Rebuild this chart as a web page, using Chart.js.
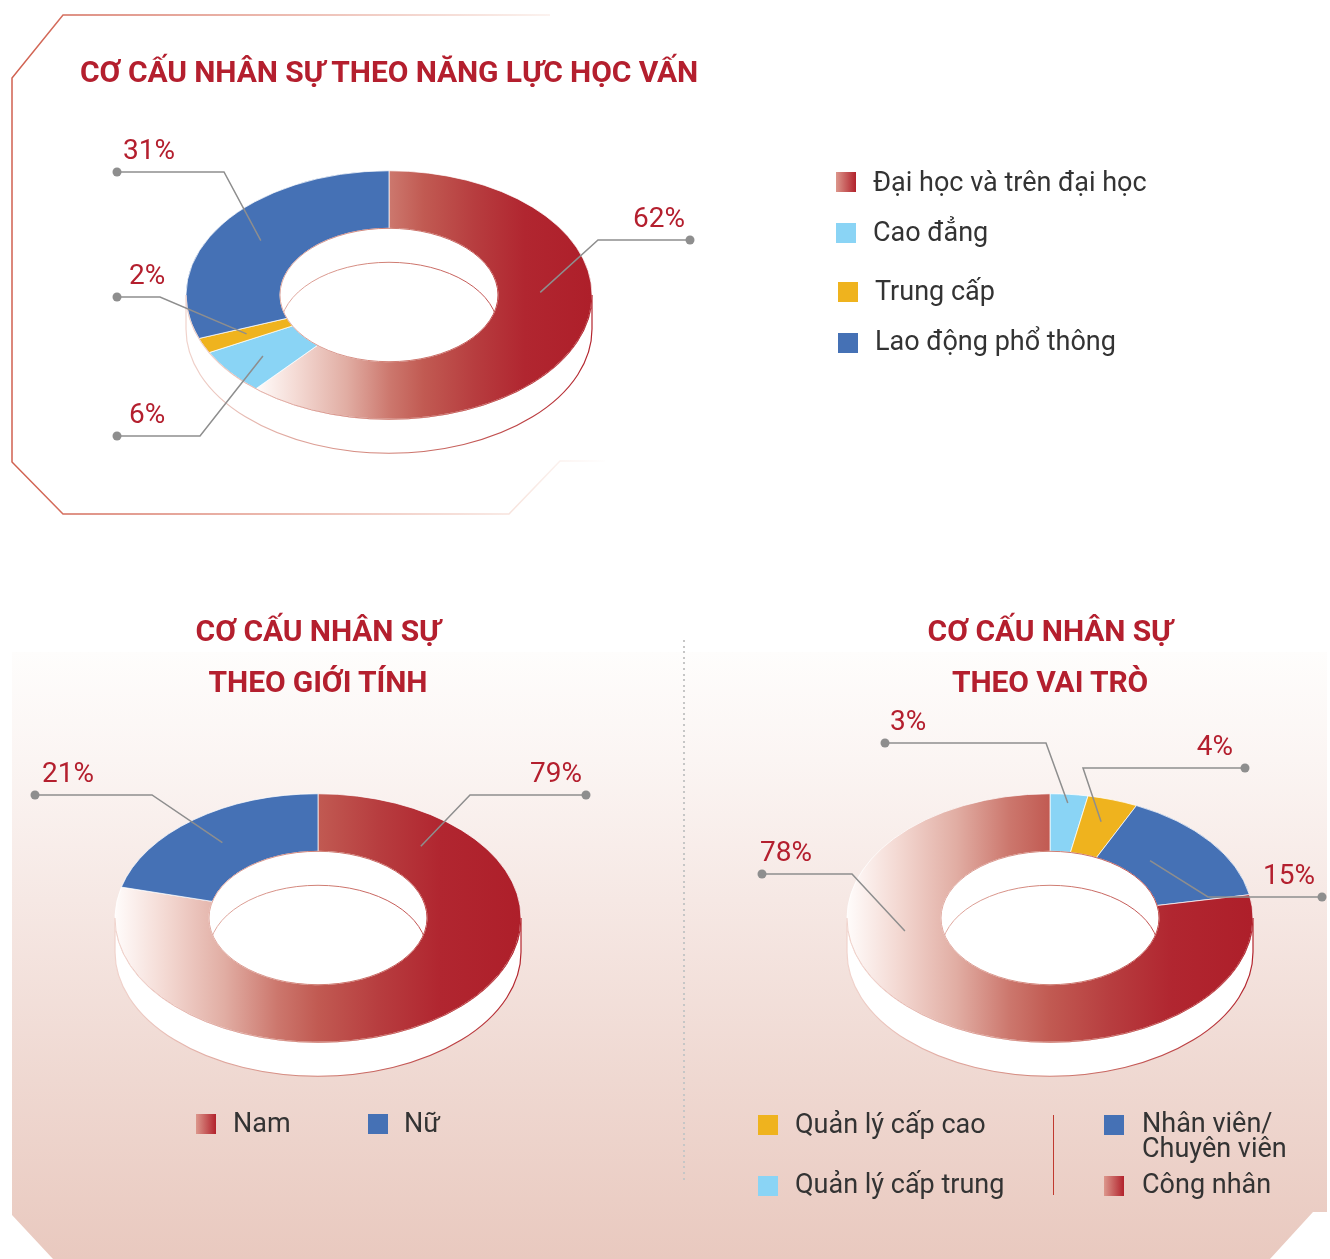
<!DOCTYPE html>
<html lang="vi">
<head>
<meta charset="utf-8">
<title>Cơ cấu nhân sự</title>
<script src="https://cdn.jsdelivr.net/npm/chart.js@4.4.1/dist/chart.umd.min.js"></script>
<style>
  html, body { margin: 0; padding: 0; background: #fff; }
  #page { position: relative; width: 1330px; height: 1259px; overflow: hidden; font-family: Roboto, "Noto Sans", sans-serif; }
  #panel {
    position: absolute; left: 0; top: 0; width: 1330px; height: 1259px;
    background: linear-gradient(to bottom, #fff 0, #fff 651px, #fefdfc 652px, #fbf5f3 760px, #f6e8e4 900px, #efd8d1 1080px, #e9c9bf 1259px);
    clip-path: polygon(12px 652px, 1327px 652px, 1327px 1212px, 1313px 1212px, 1270px 1259px, 53px 1259px, 12px 1215px);
  }
  #frame { position: absolute; left: 0; top: 0; }
  #divider {
    position: absolute; left: 683px; top: 640px; width: 2px; height: 540px;
    background: repeating-linear-gradient(to bottom, #c6c6c6 0, #c6c6c6 2px, transparent 2px, transparent 5.6px);
  }
  canvas.ring { position: absolute; left: 0; top: 0; }
  .title { position: absolute; color: #b41f2e; font-weight: 700; font-size: 30px; letter-spacing: -0.1px; white-space: nowrap; line-height: 1; }
  .title.center { transform: translateX(-50%); }
  .key { position: absolute; }
  .key .sw { position: absolute; width: 20px; height: 20px; }
  .key .tx { position: absolute; font-size: 27px; color: #333; line-height: 25px; white-space: nowrap; }
  #sep { position: absolute; left: 1053px; top: 1115px; width: 1px; height: 80px; background: #c0392f; }
</style>
</head>
<body>
<div id="page">
  <div id="panel"></div>
  <svg id="frame" width="1330" height="560">
    <defs>
      <linearGradient id="frameGrad" gradientUnits="userSpaceOnUse" x1="12" y1="0" x2="610" y2="0">
        <stop offset="0" stop-color="#d0604f"/>
        <stop offset="0.45" stop-color="#e6a496"/>
        <stop offset="0.85" stop-color="#f8e6e0"/>
        <stop offset="1" stop-color="#ffffff"/>
      </linearGradient>
    </defs>
    <polyline points="550,15 63,15 12,78 12,462 63,514 509,514 560,461 605,461"
              fill="none" stroke="url(#frameGrad)" stroke-width="1.5"/>
  </svg>
  <div id="divider"></div>

  <canvas class="ring" id="eduChart" width="1330" height="1259"></canvas>
  <canvas class="ring" id="genderChart" width="1330" height="1259"></canvas>
  <canvas class="ring" id="roleChart" width="1330" height="1259"></canvas>

  <div class="title" style="left:80px; top:57px;">CƠ CẤU NHÂN SỰ THEO NĂNG LỰC HỌC VẤN</div>
  <div class="title center" style="left:318px; top:616px;">CƠ CẤU NHÂN SỰ</div>
  <div class="title center" style="left:318px; top:667px;">THEO GIỚI TÍNH</div>
  <div class="title center" style="left:1050px; top:616px;">CƠ CẤU NHÂN SỰ</div>
  <div class="title center" style="left:1050px; top:667px;">THEO VAI TRÒ</div>
  <div id="sep"></div>
  <div id="legends"></div>
</div>

<script>
// ---- data ----
const eduLabels = ['Đại học và trên đại học', 'Cao đẳng', 'Trung cấp', 'Lao động phổ thông'];
const eduValues = [62, 6, 2, 31];

const genderLabels = ['Nam', 'Nữ'];
const genderValues = [79, 21];

const roleLabels = ['Quản lý cấp trung', 'Quản lý cấp cao', ['Nhân viên/', 'Chuyên viên'], 'Công nhân'];
const roleValues = [3, 4, 15, 78];

// ---- colours ----
const BLUE = '#4571b5';
const SKY = '#8ad4f5';
const GOLD = '#efb31e';
const RED = 'red-gradient';
const SWATCH_RED = 'linear-gradient(90deg, #dc978c, #b2222c)';

const eduColors = [RED, SKY, GOLD, BLUE];
const genderColors = [RED, BLUE];
const roleColors = [SKY, GOLD, BLUE, RED];

// horizontal extent of one slice, relative to the ring centre
function sliceSpan(values, index, R, r) {
  const total = values.reduce((a, b) => a + b, 0);
  const a0 = values.slice(0, index).reduce((a, b) => a + b, 0) / total * 2 * Math.PI;
  const a1 = a0 + values[index] / total * 2 * Math.PI;
  let lo = Infinity, hi = -Infinity;
  for (let i = 0; i <= 240; i++) {
    const s = Math.sin(a0 + (a1 - a0) * i / 240);
    for (const rad of [R, r]) {
      lo = Math.min(lo, s * rad);
      hi = Math.max(hi, s * rad);
    }
  }
  return [lo, hi];
}

function redFill(c, values) {
  const chart = c.chart;
  const ca = chart.chartArea;
  if (!ca) return '#b01f2a';
  const geo = chart.options.plugins.tilt;
  const ox = (ca.left + ca.right) / 2;
  const [lo, hi] = sliceSpan(values, c.dataIndex, geo.R, geo.r);
  const g = chart.ctx.createLinearGradient(ox + lo, 0, ox + hi, 0);
  g.addColorStop(0, '#fffcfb');
  g.addColorStop(0.12, '#f4dad4');
  g.addColorStop(0.27, '#e1ada3');
  g.addColorStop(0.4, '#cc776d');
  g.addColorStop(0.5, '#c15a52');
  g.addColorStop(0.65, '#b73d3f');
  g.addColorStop(0.8, '#b12630');
  g.addColorStop(1, '#ae1f2a');
  return g;
}

function edgeGradient(ctx, cx, R) {
  const g = ctx.createLinearGradient(cx - R, 0, cx + R, 0);
  g.addColorStop(0, '#f0d3cc');
  g.addColorStop(0.5, '#d07f74');
  g.addColorStop(1, '#b3242d');
  return g;
}

// flattens the ring into an ellipse and gives it a white side wall
const tiltPlugin = {
  id: 'tilt',
  beforeDatasetsDraw(chart, args, o) {
    const ctx = chart.ctx;
    const arc = chart.getDatasetMeta(0).data[0];
    const R = arc.outerRadius, r = arc.innerRadius;
    const ry = R * o.k, iry = r * o.k;
    ctx.save();
    ctx.beginPath();
    ctx.moveTo(o.cx + R, o.cy);
    ctx.lineTo(o.cx + R, o.cy + o.depth);
    ctx.ellipse(o.cx, o.cy + o.depth, R, ry, 0, 0, Math.PI);
    ctx.lineTo(o.cx - R, o.cy);
    ctx.ellipse(o.cx, o.cy, R, ry, 0, Math.PI, 0, true);
    ctx.closePath();
    ctx.fillStyle = '#fff';
    ctx.fill();
    ctx.strokeStyle = edgeGradient(ctx, o.cx, R);
    ctx.lineWidth = 1.2;
    ctx.stroke();
    ctx.beginPath();
    ctx.ellipse(o.cx, o.cy, r, iry, 0, 0, 2 * Math.PI);
    ctx.fill();
    ctx.restore();

    ctx.save();
    ctx.translate(o.cx, o.cy);
    ctx.scale(1, o.k);
    ctx.translate(-arc.x, -arc.y);
  },
  afterDatasetsDraw(chart, args, o) {
    const ctx = chart.ctx;
    ctx.restore();
    const arc = chart.getDatasetMeta(0).data[0];
    const R = arc.outerRadius, r = arc.innerRadius;
    ctx.save();
    ctx.strokeStyle = edgeGradient(ctx, o.cx, R);
    ctx.lineWidth = 1;
    // rim of the face
    ctx.beginPath();
    ctx.ellipse(o.cx, o.cy, R, R * o.k, 0, 0, Math.PI);
    ctx.stroke();
    ctx.beginPath();
    ctx.ellipse(o.cx, o.cy, r, r * o.k, 0, 0, 2 * Math.PI);
    ctx.stroke();
    // inner wall seen through the hole
    ctx.clip();
    ctx.beginPath();
    ctx.ellipse(o.cx, o.cy + o.depth, r, r * o.k, 0, Math.PI, 2 * Math.PI);
    ctx.stroke();
    ctx.restore();
  }
};

// leader lines with a dot and the percentage
const calloutPlugin = {
  id: 'callouts',
  afterDraw(chart, args, o) {
    const ctx = chart.ctx;
    const geo = chart.options.plugins.tilt;
    const meta = chart.getDatasetMeta(0);
    const values = chart.data.datasets[0].data;
    ctx.save();
    o.items.forEach(it => {
      const arc = meta.data[it.index];
      const a = arc.startAngle + (arc.endAngle - arc.startAngle) * it.t;
      const rho = arc.innerRadius + (arc.outerRadius - arc.innerRadius) * it.rf;
      const ex = geo.cx + Math.cos(a) * rho;
      const ey = geo.cy + Math.sin(a) * rho * geo.k;
      ctx.strokeStyle = '#8e8e8e';
      ctx.lineWidth = 1.5;
      ctx.beginPath();
      ctx.moveTo(it.dot[0], it.dot[1]);
      ctx.lineTo(it.elbow, it.dot[1]);
      ctx.lineTo(ex, ey);
      ctx.stroke();
      ctx.fillStyle = '#8e8e8e';
      ctx.beginPath();
      ctx.arc(it.dot[0], it.dot[1], 4.5, 0, 2 * Math.PI);
      ctx.fill();
      ctx.fillStyle = '#b41f2e';
      ctx.font = '400 28px Roboto, "Noto Sans", sans-serif';
      ctx.textBaseline = 'middle';
      ctx.textAlign = it.align;
      ctx.fillText(values[it.index] + '%', it.textX, it.dot[1] - 20);
    });
    ctx.restore();
  }
};

function ringChart(id, labels, values, colors, geo, items) {
  return new Chart(document.getElementById(id), {
    type: 'doughnut',
    data: {
      labels: labels,
      datasets: [{
        data: values,
        backgroundColor: c => colors[c.dataIndex] === RED ? redFill(c, values) : colors[c.dataIndex],
        borderColor: 'rgba(255,255,255,0.9)',
        borderWidth: 1,
        radius: geo.R,
        cutout: (geo.r / geo.R * 100) + '%'
      }]
    },
    options: {
      responsive: false,
      animation: false,
      devicePixelRatio: 1,
      events: [],
      plugins: {
        legend: { display: false },
        tooltip: { enabled: false },
        tilt: geo,
        callouts: { items: items }
      }
    },
    plugins: [tiltPlugin, calloutPlugin]
  });
}

ringChart('eduChart', eduLabels, eduValues, eduColors,
  { cx: 389, cy: 295, R: 203, r: 109, k: 0.612, depth: 34 },
  [
    { index: 0, dot: [690, 240], elbow: 598, t: 0.4, rf: 0.45, textX: 685, align: 'right' },
    { index: 1, dot: [117, 436], elbow: 200, t: 0.5, rf: 0.55, textX: 129, align: 'left' },
    { index: 2, dot: [117, 297], elbow: 160, t: 0.5, rf: 0.5, textX: 129, align: 'left' },
    { index: 3, dot: [117, 172], elbow: 224, t: 0.5, rf: 0.5, textX: 123, align: 'left' }
  ]);

ringChart('genderChart', genderLabels, genderValues, genderColors,
  { cx: 318, cy: 918, R: 203, r: 109, k: 0.612, depth: 34 },
  [
    { index: 0, dot: [586, 795], elbow: 470, t: 0.145, rf: 0.5, textX: 582, align: 'right' },
    { index: 1, dot: [35, 795], elbow: 152, t: 0.5, rf: 0.5, textX: 42, align: 'left' }
  ]);

ringChart('roleChart', roleLabels, roleValues, roleColors,
  { cx: 1050, cy: 918, R: 203, r: 109, k: 0.612, depth: 34 },
  [
    { index: 0, dot: [885, 743], elbow: 1046, t: 0.5, rf: 0.85, textX: 890, align: 'left' },
    { index: 1, dot: [1245, 768], elbow: 1083, t: 0.5, rf: 0.6, textX: 1233, align: 'right' },
    { index: 2, dot: [1322, 897], elbow: 1208, t: 0.4, rf: 0.3, textX: 1315, align: 'right' },
    { index: 3, dot: [762, 874], elbow: 852, t: 0.65, rf: 0.4, textX: 760, align: 'left' }
  ]);

// ---- legends ----
const legendBox = document.getElementById('legends');
function legendItem(label, color, sx, sy, tx, ty) {
  const item = document.createElement('div');
  item.className = 'key';
  const box = document.createElement('div');
  box.className = 'sw';
  box.style.left = sx + 'px';
  box.style.top = sy + 'px';
  box.style.background = color === RED ? SWATCH_RED : color;
  const text = document.createElement('div');
  text.className = 'tx';
  text.style.left = tx + 'px';
  text.style.top = ty + 'px';
  text.innerHTML = Array.isArray(label) ? label.join('<br>') : label;
  item.appendChild(box);
  item.appendChild(text);
  legendBox.appendChild(item);
}

legendItem(eduLabels[0], eduColors[0], 836, 172, 873, 170);
legendItem(eduLabels[1], eduColors[1], 836, 223, 873, 220);
legendItem(eduLabels[2], eduColors[2], 838, 282, 875, 279);
legendItem(eduLabels[3], eduColors[3], 838, 333, 875, 329);

legendItem(genderLabels[0], genderColors[0], 196, 1114, 233, 1111);
legendItem(genderLabels[1], genderColors[1], 368, 1114, 404, 1111);

legendItem(roleLabels[1], roleColors[1], 758, 1115, 795, 1112);
legendItem(roleLabels[0], roleColors[0], 758, 1176, 795, 1172);
legendItem(roleLabels[2], roleColors[2], 1104, 1115, 1142, 1111);
legendItem(roleLabels[3], roleColors[3], 1104, 1176, 1142, 1172);
</script>
</body>
</html>
